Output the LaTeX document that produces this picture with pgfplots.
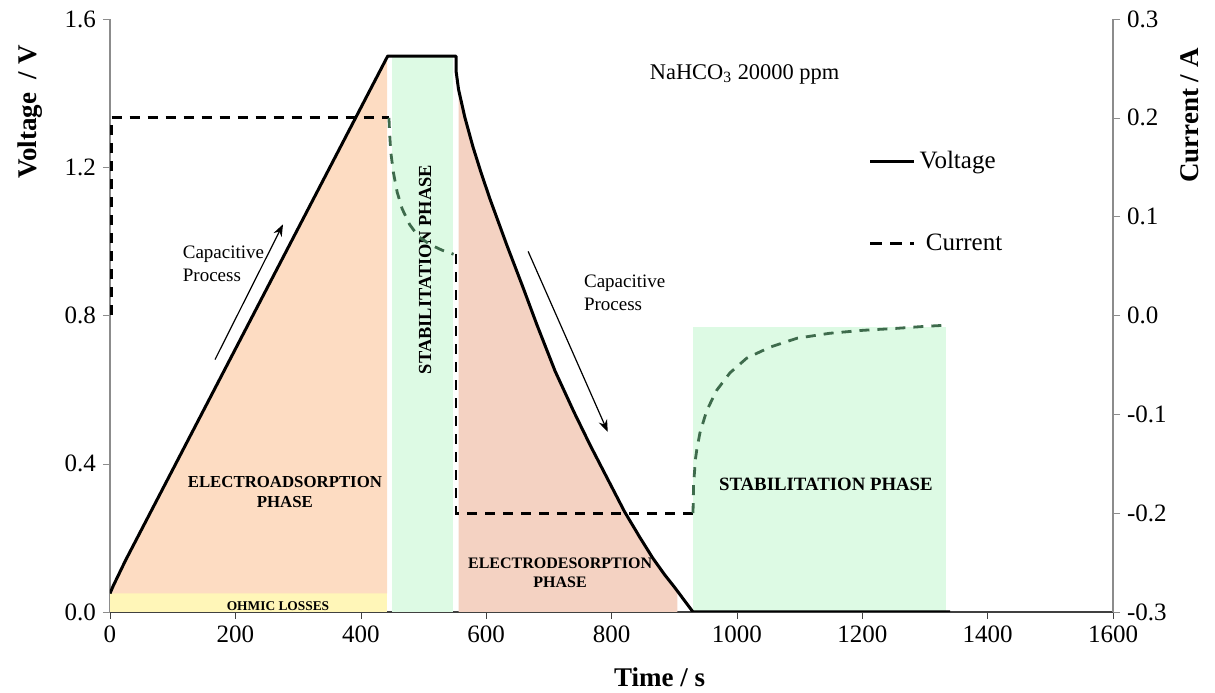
\documentclass[border=0pt]{standalone}
\usepackage{fontspec}
\setmainfont{Liberation Serif}
\usepackage{pgfplots}
\pgfplotsset{compat=1.18}
\usetikzlibrary{calc,arrows.meta}

\definecolor{peach}{HTML}{FDDCC2}
\definecolor{salmon}{HTML}{F4D2C2}
\definecolor{mint}{HTML}{DDFAE4}
\definecolor{ohmic}{HTML}{FFF6B8}
\definecolor{curgreen}{HTML}{3E6B4C}
\definecolor{axgray}{HTML}{8C8C8C}

\pgfplotsset{
  base/.style={
    scale only axis, width=501.5pt, height=296.5pt,
    xmin=0, xmax=1600,
    tick align=outside, major tick length=3.5pt,
    /pgf/number format/assume math mode=true,
    /pgf/number format/1000 sep={},
    tick label style={font=\fontsize{12.5}{14}\selectfont},
    label style={font=\fontsize{13.5}{15}\selectfont\bfseries},
  },
  cur/.style={line width=1.4pt, dash pattern=on 5pt off 4pt},
}

\begin{document}
\begin{tikzpicture}
\begin{axis}[base, name=ax,
  ymin=0, ymax=1.6, ytick={0,0.4,0.8,1.2,1.6},
  xtick={0,200,...,1600},
  axis x line*=bottom, axis y line*=left,
  x axis line style={black!75, line width=0.7pt},
  y axis line style={axgray, line width=0.6pt},
  ytick style={axgray}, xtick style={black!75},
  yticklabel style={/pgf/number format/.cd, fixed, fixed zerofill, precision=1},
  ylabel={Voltage~~/~V},
  ylabel style={at={(axis description cs:-0.0798,0.843)}, anchor=center, rotate=0},
  xlabel={Time / s},
  xlabel style={at={(axis description cs:0.548,-0.1096)}, anchor=center},
]
% shaded phases
\addplot[fill=ohmic, draw=none] coordinates {(0,0) (0,0.05) (442,0.05) (442,0)} -- cycle;
\addplot[fill=peach, draw=none] coordinates {(0,0.05) (5,0.07) (25,0.14) (442,1.497) (442,0.05)} -- cycle;
\addplot[fill=mint, draw=none] coordinates {(450,0) (450,1.5) (547,1.5) (547,0)} -- cycle;
\addplot[fill=salmon, draw=none] coordinates {(556,0) (556,1.41) (566,1.335) (579,1.255) (592,1.185) (606,1.115) (633,0.99) (659,0.875) (681,0.775) (710,0.65) (740,0.54) (766,0.45) (795,0.355) (821,0.27) (845,0.202) (866,0.145) (885,0.10) (905,0.058) (905,0)} -- cycle;
\addplot[fill=mint, draw=none] coordinates {(930,0) (930,0.77) (1333,0.77) (1333,0)} -- cycle;
% voltage
\addplot[black, line width=1.5pt, line join=round] coordinates {
 (0,0.05) (5,0.07) (25,0.14) (443,1.5) (552,1.5) (552,1.46) (556,1.41) (566,1.335) (579,1.255) (592,1.185) (606,1.115) (633,0.99) (659,0.875) (681,0.775) (710,0.65) (740,0.54) (766,0.45) (795,0.355) (821,0.27) (845,0.202) (866,0.145) (885,0.10) (900,0.068) (915,0.034) (930,0) (1340,0)};
% annotations
\node[font=\fontsize{11.2}{13}\selectfont, anchor=west] at (axis cs:850,1.451) {NaHCO\textsubscript{3} 20000 ppm};
\node[font=\fontsize{9.5}{11.5}\selectfont, align=left, anchor=west] at (axis cs:105,0.94) {Capacitive\\Process};
\node[font=\fontsize{9.5}{11.5}\selectfont, align=left, anchor=west] at (axis cs:745,0.862) {Capacitive\\Process};
\draw[-{Stealth[length=6pt,width=4.5pt]}, line width=0.6pt] (axis cs:167.5,0.681) -- (axis cs:276,1.046);
\draw[-{Stealth[length=6pt,width=4.5pt]}, line width=0.6pt] (axis cs:667,0.973) -- (axis cs:794,0.486);
\node[font=\fontsize{8.4}{10}\selectfont\bfseries, align=center] at (axis cs:279,0.324) {ELECTROADSORPTION\\PHASE};
\node[font=\fontsize{9.2}{11}\selectfont\bfseries, rotate=90] at (axis cs:502.5,0.924) {STABILITATION PHASE};
\node[font=\fontsize{8}{9.5}\selectfont\bfseries, align=center] at (axis cs:718,0.105) {ELECTRODESORPTION\\PHASE};
\node[font=\fontsize{6.7}{8}\selectfont\bfseries] at (axis cs:268,0.016) {OHMIC LOSSES};
\node[font=\fontsize{9.4}{11}\selectfont\bfseries] at (axis cs:1142,0.343) {STABILITATION PHASE};
\end{axis}

\begin{axis}[base, clip=false,
  ymin=-0.3, ymax=0.3, ytick={-0.3,-0.2,-0.1,0,0.1,0.2,0.3},
  axis y line*=right, axis x line=none,
  y axis line style={axgray, line width=0.6pt},
  ytick style={axgray},
  yticklabel style={/pgf/number format/.cd, fixed, fixed zerofill, precision=1},
  ylabel={Current / A},
  ylabel style={at={(axis description cs:1.0768,0.837)}, anchor=center},
  legend style={draw=none, fill=none, at={(rel axis cs:0.756,0.784)}, anchor=north west,
    row sep=27pt, font=\fontsize{12.5}{14}\selectfont, inner sep=0pt},
  legend cell align=left,
  legend image code/.code={\draw[#1] (0pt,0pt) -- (22pt,0pt);},
]
\addlegendimage{black, line width=1.5pt}
\addlegendentry{Voltage}
\addlegendimage{black, line width=1.4pt, dash pattern=on 6pt off 4pt}
\addlegendentry{\ Current}
\addplot[cur, black, forget plot] coordinates {(2,0) (2,0.2) (445,0.2)};
\addplot[cur, curgreen, forget plot] coordinates {(445,0.2) (446,0.185) (448,0.165) (452,0.145) (458,0.125) (466,0.108) (478,0.092) (492,0.08) (510,0.072) (530,0.066) (548,0.062)};
\addplot[cur, black, forget plot] coordinates {(552,0.062) (552,-0.2) (930,-0.2)};
\addplot[cur, curgreen, forget plot] coordinates {(930,-0.2) (931,-0.17) (934,-0.145) (936,-0.136) (941,-0.119) (952,-0.096) (968,-0.0755) (989,-0.058) (1016,-0.043) (1053,-0.032) (1096,-0.023) (1148,-0.018) (1201,-0.015) (1255,-0.013) (1300,-0.011) (1329,-0.010)};
\end{axis}
\pgfresetboundingbox
\path[use as bounding box] ($(ax.south west)+(-55pt,-40.5pt)$) rectangle ($(ax.north east)+(51pt,9.5pt)$);
\end{tikzpicture}
\end{document}
